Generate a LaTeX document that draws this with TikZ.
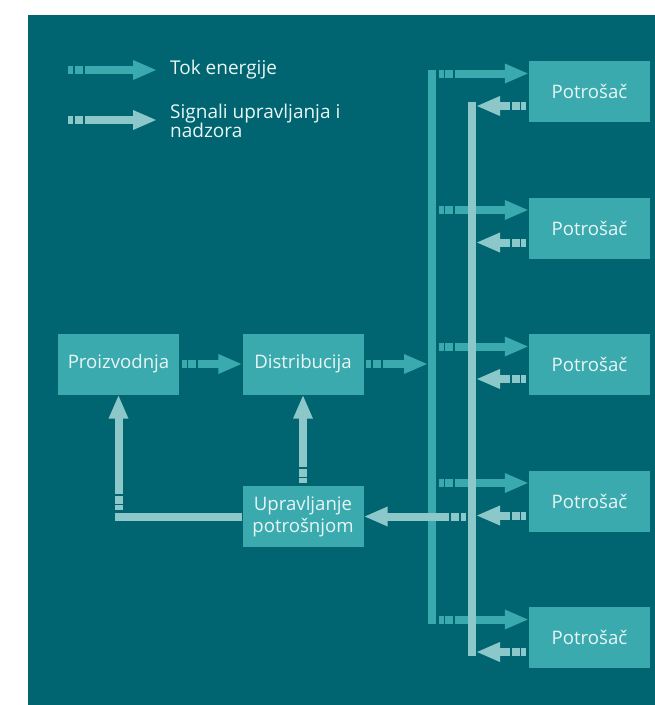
\documentclass[tikz,border=0pt]{standalone}
\usepackage{fontspec}
\setmainfont{Open Sans}
\usetikzlibrary{positioning,arrows.meta,calc}
\definecolor{bgteal}{RGB}{0,101,112}
\definecolor{boxteal}{RGB}{58,170,174}
\definecolor{paleteal}{RGB}{140,200,202}
\definecolor{labeltext}{RGB}{232,246,246}
\tikzset{box node/.style={rectangle,fill=boxteal,text=labeltext,minimum width=121pt,minimum height=61pt,inner sep=0pt,align=center,font=\fontsize{18.6}{21.5}\selectfont} }
\tikzset{legend text/.style={anchor=west,inner sep=0pt,text=labeltext,align=left,font=\fontsize{19}{19.5}\selectfont} }
\tikzset{flow tail/.style={dash pattern=on 0pt off 2.5pt on 5pt off 1.5pt on 8pt off 2pt on 2000pt off 1pt} }
\tikzset{energy/.style={draw=boxteal,line width=8pt,flow tail,-{Triangle[length=24pt,width=18pt]}} }
\tikzset{signal/.style={draw=paleteal,line width=8pt,flow tail,-{Triangle[length=24pt,width=18pt]}} }

\begin{document}
\begin{tikzpicture}[x=1pt,y=-1pt]
\useasboundingbox (0,0) rectangle (655,705);
\fill[bgteal] (28,15) rectangle (655,705);
\begin{scope}[on grid]

  % legend
  \node[legend text] (tok) at (170,70) {Tok energije};
  \node[legend text] (sig) at (170,121) {Signali upravljanja i\\nadzora};
  \coordinate (tokstart) at (65.5,70);
  \coordinate (sigstart) at (65.5,120);
  \draw[energy] (tokstart) -- ($(tokstart -| tok.west)+(-13,0)$);
  \draw[signal] (sigstart) -- ($(sigstart -| sig.west)+(-13,0)$);

  % left part
  \node[box node] (proiz) at (118.5,364) {Proizvodnja};
  \node[box node] (distr) [right = 184.5pt of proiz] {Distribucija};
  \node[box node] (uprav) [below = 152.5pt of distr] {Upravljanje\\potrošnjom};

  % consumers
  \node[box node] (p1) at (589.5,91.5) {Potrošač};
  \node[box node] (p2) [below = 136.5pt of p1] {Potrošač};
  \node[box node] (p3) [below = 136.5pt of p2] {Potrošač};
  \node[box node] (p4) [below = 136.5pt of p3] {Potrošač};
  \node[box node] (p5) [below = 136.5pt of p4] {Potrošač};

  % energy bus
  \coordinate (etop) at (432,69.5);
  \coordinate (ebot) at (432,623.5);
  \draw[boxteal,line width=8pt] (etop) -- (ebot);
  \coordinate (e1) at (436,73.5);
  \coordinate (e2) at (436,210);
  \coordinate (e3) at (436,346.5);
  \coordinate (e4) at (436,483);
  \coordinate (e5) at (436,619.5);
  \draw[energy] (proiz.east) -- (distr.west);
  \draw[energy] (distr.east) -- ($(distr.east -| etop)+(-4,0)$);
  \draw[energy] (e1) -- (e1 -| p1.west);
  \draw[energy] (e2) -- (e2 -| p2.west);
  \draw[energy] (e3) -- (e3 -| p3.west);
  \draw[energy] (e4) -- (e4 -| p4.west);
  \draw[energy] (e5) -- (e5 -| p5.west);

  % signal bus
  \coordinate (stop) at (472,102);
  \coordinate (sbot) at (472,656);
  \draw[paleteal,line width=8pt] (stop) -- (sbot);
  \coordinate (s1) at (476,106);
  \coordinate (s2) at (476,242.5);
  \coordinate (s3) at (476,379);
  \coordinate (s4) at (476,515.5);
  \coordinate (s5) at (476,652);
  \draw[signal] (s1 -| p1.west) -- (s1);
  \draw[signal] (s2 -| p2.west) -- (s2);
  \draw[signal] (s3 -| p3.west) -- (s3);
  \draw[signal] (s4 -| p4.west) -- (s4);
  \draw[signal] (s5 -| p5.west) -- (s5);
  \draw[signal] ($(uprav.east -| stop)+(-4,0)$) -- (uprav.east);
  \draw[signal] (uprav.north) -- (distr.south);
  \coordinate (turn) at (proiz.south |- uprav.west);
  \draw[paleteal,line width=8pt] (uprav.west) -- ($(turn)+(-4,0)$);
  \draw[signal] ($(turn)+(0,-4)$) -- (proiz.south);
\end{scope}
\end{tikzpicture}
\end{document}
